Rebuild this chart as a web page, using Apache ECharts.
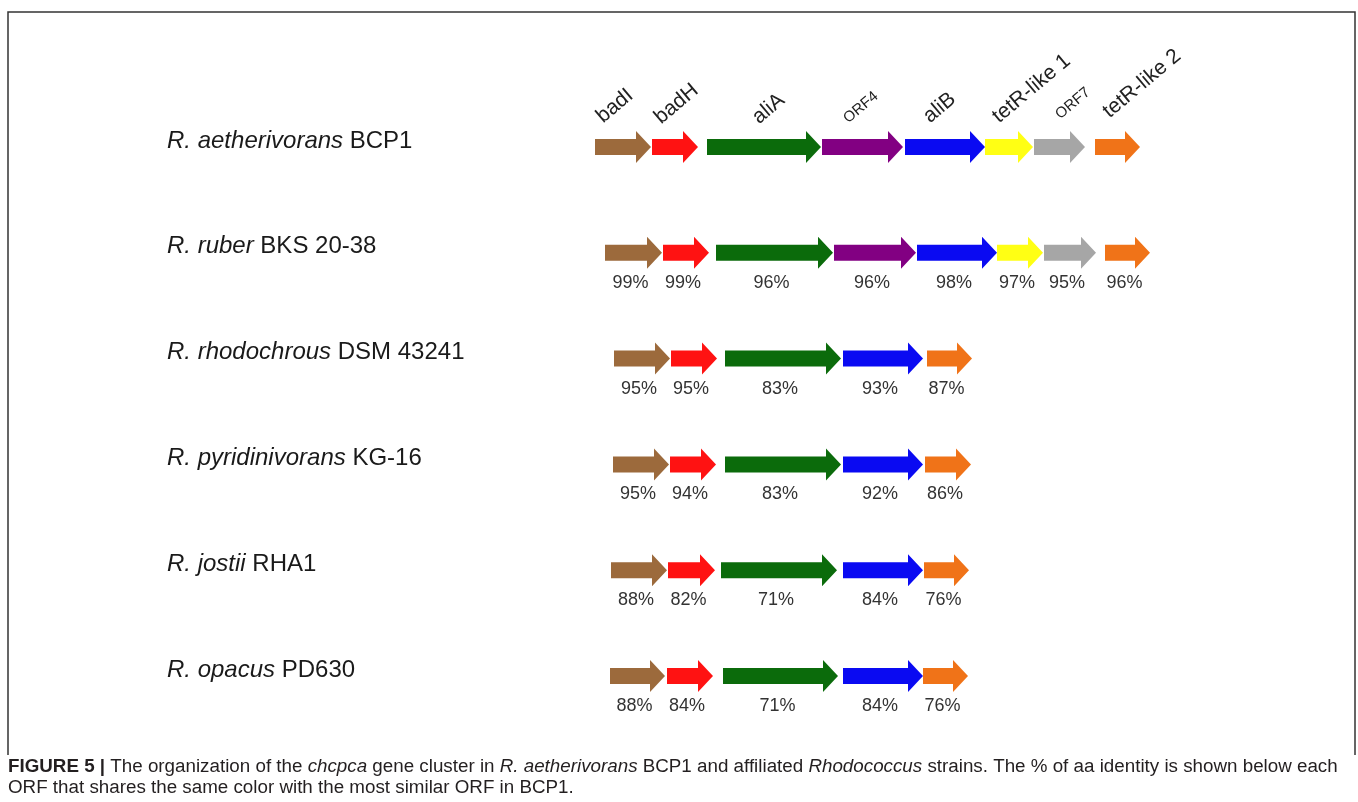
<!DOCTYPE html>
<html><head><meta charset="utf-8">
<script src="https://cdn.jsdelivr.net/npm/echarts@6/dist/echarts.min.js"></script>
<style>html,body{margin:0;padding:0;background:#fff}#c{width:1358px;height:802px}</style>
</head><body><div id="c"></div>
<script>
// ---------------- data ----------------
const strainSpecies = ['R. aetherivorans', 'R. ruber', 'R. rhodochrous', 'R. pyridinivorans', 'R. jostii', 'R. opacus'];
const strainIds = ['BCP1', 'BKS 20-38', 'DSM 43241', 'KG-16', 'RHA1', 'PD630'];
const genes = ['badI', 'badH', 'aliA', 'ORF4', 'aliB', 'tetR-like 1', 'ORF7', 'tetR-like 2'];

// ORF extents along the cluster (relative units), gene index per ORF, % aa identity to BCP1
const bcp1Genes = [0, 1, 2, 3, 4, 5, 6, 7];
const bcp1Start = [5, 62, 117, 232, 315, 395, 444, 505];
const bcp1End = [61, 108, 231, 313, 395, 443, 495, 550];
const bcp1Identity = [null, null, null, null, null, null, null, null];

const ruberGenes = [0, 1, 2, 3, 4, 5, 6, 7];
const ruberStart = [15, 73, 126, 244, 327, 407, 454, 515];
const ruberEnd = [72, 119, 243, 326, 407, 453, 506, 560];
const ruberIdentity = [99, 99, 96, 96, 98, 97, 95, 96];

const rhodochrousGenes = [0, 1, 2, 4, 7];
const rhodochrousStart = [24, 81, 135, 253, 337];
const rhodochrousEnd = [80, 127, 251, 333, 382];
const rhodochrousIdentity = [95, 95, 83, 93, 87];

const pyridinivoransGenes = [0, 1, 2, 4, 7];
const pyridinivoransStart = [23, 80, 135, 253, 335];
const pyridinivoransEnd = [79, 126, 251, 333, 381];
const pyridinivoransIdentity = [95, 94, 83, 92, 86];

const jostiiGenes = [0, 1, 2, 4, 7];
const jostiiStart = [21, 78, 131, 253, 334];
const jostiiEnd = [77, 125, 247, 333, 379];
const jostiiIdentity = [88, 82, 71, 84, 76];

const opacusGenes = [0, 1, 2, 4, 7];
const opacusStart = [20, 77, 133, 253, 333];
const opacusEnd = [75, 123, 248, 333, 378];
const opacusIdentity = [88, 84, 71, 84, 76];

// ---------------- build ----------------
const rows = [
  [bcp1Genes, bcp1Start, bcp1End, bcp1Identity],
  [ruberGenes, ruberStart, ruberEnd, ruberIdentity],
  [rhodochrousGenes, rhodochrousStart, rhodochrousEnd, rhodochrousIdentity],
  [pyridinivoransGenes, pyridinivoransStart, pyridinivoransEnd, pyridinivoransIdentity],
  [jostiiGenes, jostiiStart, jostiiEnd, jostiiIdentity],
  [opacusGenes, opacusStart, opacusEnd, opacusIdentity]
];
const seriesData = [];
rows.forEach((r, ri) => {
  r[0].forEach((g, k) => {
    seriesData.push({ value: [ri, r[1][k], r[2][k], g], identity: r[3][k] });
  });
});

const geneColors = ['#9C6A3C', '#FF1212', '#0B6B0B', '#820082', '#0A0AF2', '#FFFF14', '#A6A6A6', '#F07318'];
const FONT = "'Liberation Sans', Arial, Helvetica, sans-serif";
// label placement tweaks (px) for the rotated gene names: [dx from ORF centre, bottom y]
const labelNudge = [[-17, 127], [-11, 128], [-2, 128], [-12, 126], [-12, 127], [-7, 127], [3, 122], [-5, 122]];

function renderItem(params, api) {
  const row = api.value(0), s = api.value(1), e = api.value(2), g = api.value(3);
  const item = seriesData[params.dataIndex];
  const p0 = api.coord([s, row]);
  const p1 = api.coord([e, row]);
  const y = p0[1], x0 = p0[0], x1 = p1[0];
  const bh = 8, hh = 16, hl = 15;
  const xh = Math.max(x0, x1 - hl);
  const children = [{
    type: 'polygon',
    shape: { points: [[x0, y - bh], [xh, y - bh], [xh, y - hh], [x1, y], [xh, y + hh], [xh, y + bh], [x0, y + bh]] },
    style: { fill: geneColors[g] }
  }];
  if (item.identity != null) {
    children.push({
      type: 'text', x: (x0 + x1) / 2 - 3, y: y + 30,
      style: { text: item.identity + '%', fontSize: 18, fontFamily: FONT, fill: '#333', align: 'center', verticalAlign: 'middle' }
    });
  }
  if (row === 0) {
    const small = genes[g].indexOf('ORF') === 0;
    children.push({
      type: 'text', x: (x0 + x1) / 2 + labelNudge[g][0], y: labelNudge[g][1],
      rotation: 40 * Math.PI / 180,
      style: { text: genes[g], fontSize: small ? 15 : 21, fontFamily: FONT, fill: '#222', align: 'left', verticalAlign: 'bottom' }
    });
  }
  return { type: 'group', children };
}

const chart = echarts.init(document.getElementById('c'), null, { renderer: 'canvas' });
chart.setOption({
  backgroundColor: '#fff',
  animation: false,
  grid: { left: 590, width: 600, top: 94.1, height: 634.8 },
  xAxis: { type: 'value', min: 0, max: 600, show: false },
  yAxis: {
    type: 'category', inverse: true,
    data: strainSpecies.map((s, i) => s + ' ' + strainIds[i]),
    axisLine: { show: false }, axisTick: { show: false }, splitLine: { show: false },
    axisLabel: {
      align: 'left', margin: 423, padding: [0, 0, 12, 0],
      formatter: (v, i) => '{i|' + strainSpecies[i] + '}{n| ' + strainIds[i] + '}',
      rich: {
        i: { fontStyle: 'italic', fontSize: 24, fontFamily: FONT, color: '#1a1a1a' },
        n: { fontSize: 24, fontFamily: FONT, color: '#1a1a1a' }
      }
    }
  },
  series: [{
    type: 'custom', renderItem: renderItem, data: seriesData, clip: false,
    encode: { x: [1, 2], y: 0 }
  }],
  graphic: [
    { type: 'polyline', shape: { points: [[8, 755], [8, 12], [1355, 12], [1355, 755]] }, style: { stroke: '#333', lineWidth: 1.5, fill: null } },
    {
      type: 'text', x: 8, y: 767,
      style: {
        text: '{b|FIGURE 5 |}{t| The organization of the }{it|chcpca}{t| gene cluster in }{it|R. aetherivorans}{t| BCP1 and affiliated }{it|Rhodococcus}{t| strains. The % of aa identity is shown below each}',
        verticalAlign: 'middle',
        rich: {
          b: { fontWeight: 'bold', fontSize: 18.8, fontFamily: FONT, fill: '#231f20' },
          t: { fontSize: 18.8, fontFamily: FONT, fill: '#231f20' },
          it: { fontStyle: 'italic', fontSize: 18.8, fontFamily: FONT, fill: '#231f20' }
        }
      }
    },
    {
      type: 'text', x: 8, y: 788,
      style: { text: 'ORF that shares the same color with the most similar ORF in BCP1.', fontSize: 18.8, fontFamily: FONT, fill: '#231f20', verticalAlign: 'middle' }
    }
  ]
});
</script>
</body></html>
